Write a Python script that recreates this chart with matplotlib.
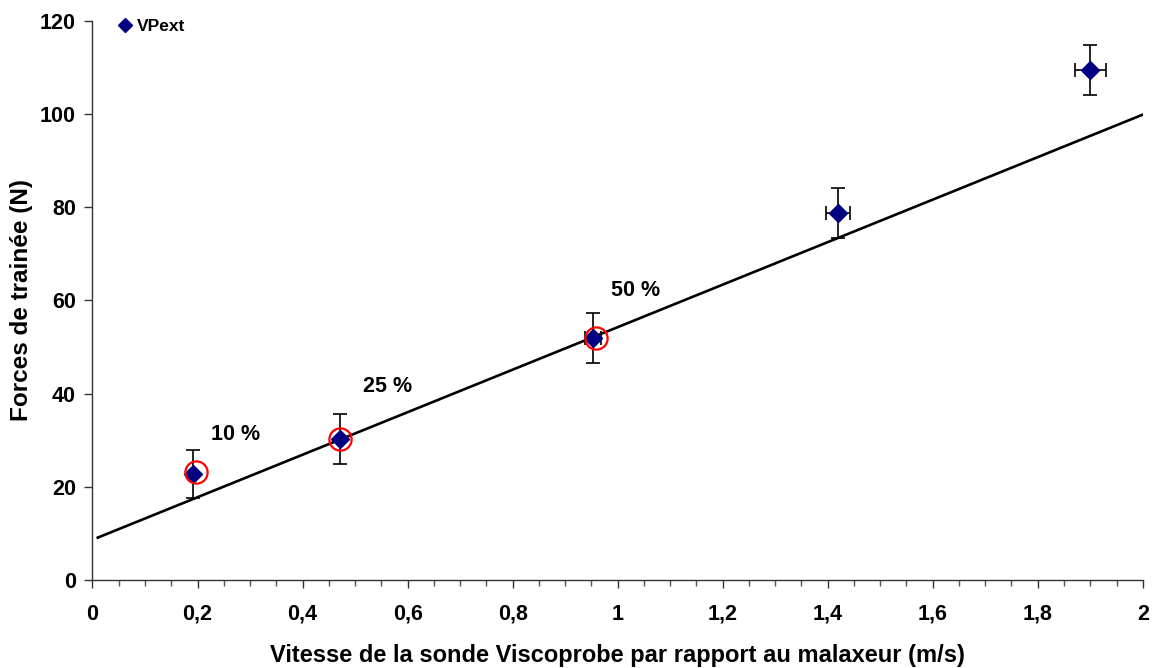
import matplotlib
matplotlib.use("Agg")
import matplotlib.pyplot as plt
from matplotlib.ticker import MultipleLocator, FixedLocator

plt.rcParams['font.family'] = ['Liberation Sans', 'DejaVu Sans']
plt.rcParams['font.weight'] = 'bold'

# Data
speed = [0.191, 0.471, 0.953, 1.42, 1.90]
force = [22.7, 30.2, 52.0, 78.8, 109.4]
force_err = [5.2, 5.4, 5.4, 5.4, 5.35]
speed_err = [0.0, 0.0, 0.015, 0.023, 0.03]

circle_x = [0.198, 0.471, 0.958]
circle_y = [23.1, 30.2, 52.0]
pct_labels = ["10 %", "25 %", "50 %"]
pct_x = [0.273, 0.562, 1.034]
pct_y = [31.3, 41.6, 62.1]

fit_x = [0.01, 2.0]
fit_y = [9.1, 99.9]

xticks = [0, 0.2, 0.4, 0.6, 0.8, 1.0, 1.2, 1.4, 1.6, 1.8, 2.0]
xticklabels = ["0", "0,2", "0,4", "0,6", "0,8", "1", "1,2", "1,4", "1,6", "1,8", "2"]
yticks = [0, 20, 40, 60, 80, 100, 120]

fig = plt.figure(figsize=(11.59, 6.68), dpi=100)
ax = fig.add_axes([0.0798, 0.1317, 0.9062, 0.8369])

ax.plot(fit_x, fit_y, color='black', lw=1.9, zorder=2)
ax.errorbar(speed, force, yerr=force_err, xerr=speed_err, fmt='none',
            ecolor='black', elinewidth=1.2, capsize=5, capthick=1.2, zorder=3)
ax.plot(speed, force, linestyle='none', marker='D', markersize=9.5,
        color='#000080', markeredgecolor='#000080', label='VPext', zorder=4)
ax.plot(circle_x, circle_y, linestyle='none', marker='o', markersize=16,
        markerfacecolor='none', markeredgecolor='#ff0000', markeredgewidth=1.6, zorder=5)

for t, x, y in zip(pct_labels, pct_x, pct_y):
    ax.text(x, y, t, ha='center', va='center', fontsize=15.5, fontweight='bold')

ax.set_xlim(0, 2)
ax.set_ylim(0, 120)
ax.xaxis.set_major_locator(FixedLocator(xticks))
ax.set_xticklabels(xticklabels)
ax.xaxis.set_minor_locator(MultipleLocator(0.05))
ax.set_yticks(yticks)

for s in ['top', 'right']:
    ax.spines[s].set_visible(False)
for s in ['left', 'bottom']:
    ax.spines[s].set_color('#333333')
    ax.spines[s].set_linewidth(1.0)

ax.tick_params(axis='x', which='major', direction='out', length=6, width=1,
               color='#333333', labelsize=15.5, pad=11)
ax.tick_params(axis='x', which='minor', direction='out', length=4, width=1,
               color='#555555')
ax.tick_params(axis='y', which='major', direction='out', length=6, width=1,
               color='#333333', labelsize=15.5, pad=6)
for lab in ax.get_xticklabels() + ax.get_yticklabels():
    lab.set_fontweight('bold')

ax.set_xlabel("Vitesse de la sonde Viscoprobe par rapport au malaxeur (m/s)",
              fontsize=17, fontweight='bold', labelpad=14)
ax.set_ylabel("Forces de trainée (N)", fontsize=17.5, fontweight='bold', labelpad=5)

leg = ax.legend(loc='upper left', bbox_to_anchor=(0.093, 0.99),
                bbox_transform=fig.transFigure, frameon=False,
                prop={'weight': 'bold', 'size': 12.5}, handlelength=0.6,
                handletextpad=0.4, borderpad=0.2, markerscale=0.8)

fig.savefig("out.png", dpi=100)
